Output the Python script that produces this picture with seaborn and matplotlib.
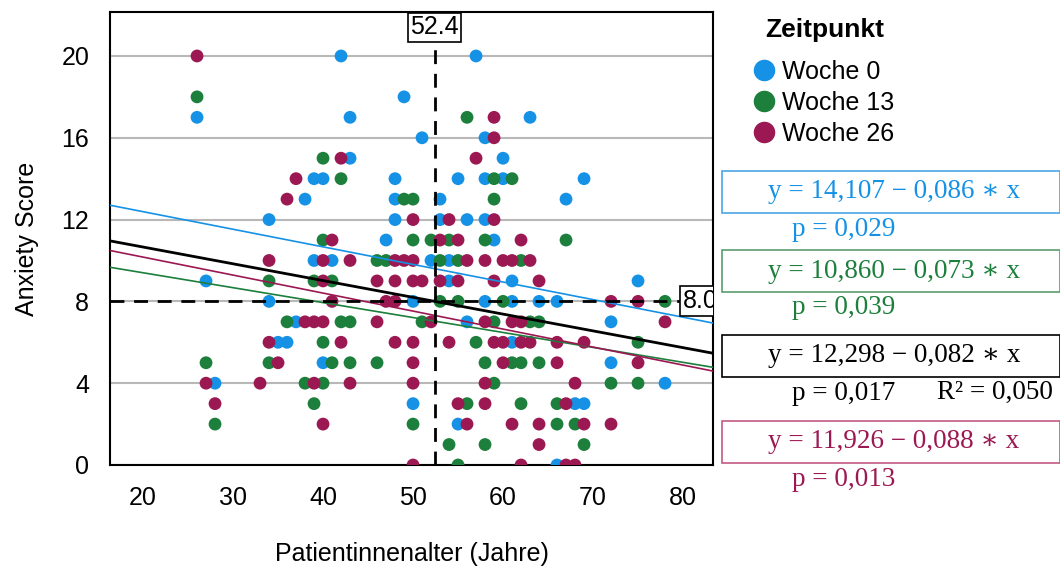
import matplotlib
matplotlib.use("Agg")
import matplotlib.pyplot as plt
import matplotlib.transforms as mtrans
from matplotlib.lines import Line2D
from matplotlib.patches import Rectangle
import numpy as np
import pandas as pd
import seaborn as sns

# ---------------- data ----------------
groups = ["Woche 0", "Woche 13", "Woche 26"]
legend_title = "Zeitpunkt"

w0_age = [42, 57, 49, 26, 43, 63, 51, 58, 43, 60, 39, 40, 48, 55, 58, 60, 69,
          38, 48, 53, 67, 34, 48, 53, 56, 58, 47, 59, 39, 41, 52, 54,
          27, 54, 61, 75, 34, 50, 58, 61, 64, 66, 37, 56, 72, 35, 36, 61,
          40, 72, 28, 78, 50, 68, 69, 55, 66]
w0_score = [20, 20, 18, 17, 17, 17, 16, 16, 15, 15, 14, 14, 14, 14, 14, 14, 14,
            13, 13, 13, 13, 12, 12, 12, 12, 12, 11, 11, 10, 10, 10, 10,
            9, 9, 9, 9, 8, 8, 8, 8, 8, 8, 7, 7, 7, 6, 6, 6,
            5, 5, 4, 4, 3, 3, 3, 2, 0]

w13_age = [26, 56, 40, 42, 59, 61, 49, 50, 59, 40, 50, 52, 54, 58, 67,
           46, 47, 53, 55, 62, 34, 39, 41, 53, 55, 60, 78,
           36, 42, 43, 51, 59, 63, 64, 40, 57, 75,
           27, 34, 41, 43, 46, 58, 61, 62, 64, 38, 40, 59, 72, 75,
           39, 56, 62, 66, 28, 50, 66, 68, 54, 58, 69, 55]
w13_score = [18, 17, 15, 14, 14, 14, 13, 13, 13, 11, 11, 11, 11, 11, 11,
             10, 10, 10, 10, 10, 9, 9, 9, 8, 8, 8, 8,
             7, 7, 7, 7, 7, 7, 7, 6, 6, 6,
             5, 5, 5, 5, 5, 5, 5, 5, 5, 4, 4, 4, 4, 4,
             3, 3, 3, 3, 2, 2, 2, 2, 1, 1, 1, 0]

w26_age = [26, 59, 59, 42, 57, 37, 36, 50, 54, 59, 41, 53, 55, 62,
           34, 40, 43, 48, 49, 50, 56, 58, 60, 61, 63,
           40, 46, 48, 50, 51, 53, 55, 59, 64,
           41, 47, 48, 72, 75,
           38, 39, 40, 46, 52, 58, 61, 62, 78,
           34, 42, 48, 50, 54, 59, 60, 62, 63, 66, 69,
           35, 50, 60, 66, 75,
           27, 33, 39, 43, 50, 58, 68,
           28, 55, 58, 67,
           40, 56, 61, 64, 69, 72,
           64,
           50, 62, 67, 68]
w26_score = [20, 17, 16, 15, 15, 14, 13, 12, 12, 12, 11, 11, 11, 11,
             10, 10, 10, 10, 10, 10, 10, 10, 10, 10, 10,
             9, 9, 9, 9, 9, 9, 9, 9, 9,
             8, 8, 8, 8, 8,
             7, 7, 7, 7, 7, 7, 7, 7, 7,
             6, 6, 6, 6, 6, 6, 6, 6, 6, 6, 6,
             5, 5, 5, 5, 5,
             4, 4, 4, 4, 4, 4, 4,
             3, 3, 3, 3,
             2, 2, 2, 2, 2, 2,
             1,
             0, 0, 0, 0]

# regression lines (Woche 0, Woche 13, Woche 26, Gesamt)
line_names = ["Woche 0", "Woche 13", "Woche 26", "Gesamt"]
intercepts = [14.107, 10.860, 11.926, 12.298]
slopes = [-0.086, -0.073, -0.088, -0.082]
eq_intercept_txt = ["14,107", "10,860", "11,926", "12,298"]
eq_slope_txt = ["0,086", "0,073", "0,088", "0,082"]
p_txt = ["0,029", "0,039", "0,013", "0,017"]
r2_txt = "0,050"

mean_age = 52.4
mean_score = 8.0

x_ticks = [20, 30, 40, 50, 60, 70, 80]
y_ticks = [0, 4, 8, 12, 16, 20]

# ---------------- styling ----------------
sns.set_style("white")
plt.rcParams["font.family"] = ["Liberation Sans", "DejaVu Sans"]
plt.rcParams["text.color"] = "black"
plt.rcParams["axes.labelcolor"] = "black"
plt.rcParams["xtick.labelcolor"] = "black"
plt.rcParams["ytick.labelcolor"] = "black"

col_blue = "#1592e6"
col_green = "#1c7f3b"
col_mag = "#9c1852"
palette = {"Woche 0": col_blue, "Woche 13": col_green, "Woche 26": col_mag}
line_cols = [col_blue, col_green, col_mag, "black"]

df = pd.DataFrame({
    "Alter": w0_age + w13_age + w26_age,
    "Score": w0_score + w13_score + w26_score,
    "Zeitpunkt": (["Woche 0"] * len(w0_age) + ["Woche 13"] * len(w13_age)
                  + ["Woche 26"] * len(w26_age)),
})

W, H = 1060, 572
fig = plt.figure(figsize=(W / 100, H / 100), dpi=100)
ax = fig.add_axes([110 / W, 1 - 465 / H, 603 / W, 453 / H])

xlim = (16.33, 83.33)
ylim = (0, 22.15)

sns.scatterplot(data=df, x="Alter", y="Score", hue="Zeitpunkt", palette=palette,
                hue_order=groups, s=85, linewidth=0, ax=ax, legend=False,
                zorder=3, clip_on=True)

# regression lines
xs = np.array(xlim)
ldf = pd.DataFrame({
    "x": np.tile(xs, len(line_names)),
    "y": np.concatenate([b + m * xs for b, m in zip(intercepts, slopes)]),
    "g": np.repeat(line_names, 2),
})
for name, c in zip(line_names, line_cols):
    sub = ldf[ldf["g"] == name]
    sns.lineplot(data=sub, x="x", y="y", color=c,
                 lw=2.0 if name == "Gesamt" else 1.2, ax=ax, zorder=4,
                 estimator=None, sort=False)

# mean reference lines
ax.axvline(mean_age, color="black", lw=2, ls=(0, (5, 3.5)), zorder=5)
ax.axhline(mean_score, color="black", lw=2, ls=(0, (5, 3.5)), zorder=5)

ax.set_xlim(*xlim)
ax.set_ylim(*ylim)

# grid / ticks
ax.set_yticks(y_ticks)
ax.set_xticks(x_ticks)
ax.set_yticks(np.arange(2, 23, 4), minor=True)
ax.set_xticks(np.arange(25, 80, 10), minor=True)
ax.yaxis.grid(True, which="major", color="#b8b8b8", lw=1.5, zorder=0)
ax.xaxis.grid(False)
ax.set_axisbelow(True)
ax.tick_params(axis="both", which="major", length=11, width=1.5,
               color="#b8b8b8", labelsize=18, pad=4, direction="out",
               labelcolor="black")
ax.tick_params(axis="both", which="minor", length=5.5, width=1.5,
               color="black", direction="out")
for side in ["left", "right", "top", "bottom"]:
    ax.spines[side].set_visible(True)
    ax.spines[side].set_color("black")
    ax.spines[side].set_linewidth(1.5)

ax.set_xlabel("Patientinnenalter (Jahre)", fontsize=18, labelpad=23,
              color="black")
ax.set_ylabel("Anxiety Score", fontsize=18, labelpad=16, color="black")

# labels for mean lines
trans_xa = mtrans.blended_transform_factory(ax.transData, ax.transAxes)
ax.text(mean_age, 0.993, f"{mean_age:.1f}", transform=trans_xa, ha="center",
        va="top", fontsize=18, zorder=6,
        bbox=dict(boxstyle="square,pad=0.1", fc="white", ec="black", lw=1.2))
trans_ay = mtrans.blended_transform_factory(ax.transAxes, ax.transData)
ax.text(1.008, mean_score, f"{mean_score:.1f}", transform=trans_ay,
        ha="right", va="center", fontsize=18, zorder=6, clip_on=True,
        bbox=dict(boxstyle="square,pad=0.12", fc="white", ec="black", lw=1.2))

# legend
fig.text(765 / W, 1 - 30 / H, legend_title, ha="left", va="center",
         fontsize=19, fontweight="bold", color="black")
handles = [Line2D([0], [0], marker="o", ls="", markersize=15.5,
                  markerfacecolor=palette[g], markeredgewidth=0)
           for g in groups]
leg = fig.legend(handles, groups, loc="upper left",
                 bbox_to_anchor=(753 / W, 1 - 60 / H), frameon=False,
                 fontsize=18, handletextpad=0.25,
                 labelspacing=0.28, handlelength=0.9, borderaxespad=0,
                 borderpad=0)
for t in leg.get_texts():
    t.set_color("black")

# equation boxes (Woche 0, Woche 13, Gesamt, Woche 26)
serif = ["Liberation Serif", "DejaVu Serif"]
box_order = [0, 1, 3, 2]
box_tops = [171, 250, 335, 421]
edge_cols = ["#4aa5e8", "#5a9e6e", "black", "#c25a85"]
for k, (i, top) in enumerate(zip(box_order, box_tops)):
    c = line_cols[i]
    fig.patches.append(Rectangle((722 / W, 1 - (top + 42) / H), 338 / W, 42 / H,
                                 transform=fig.transFigure, fill=False,
                                 ec=edge_cols[k], lw=1.2))
    fig.text(894 / W, 1 - (top + 21) / H,
             f"y = {eq_intercept_txt[i]} \u2212 {eq_slope_txt[i]} \u2217 x",
             ha="center", va="center", fontsize=19.5, color=c, family=serif)
    fig.text(792 / W, 1 - (top + 58) / H, f"p = {p_txt[i]}", ha="left",
             va="center", fontsize=19.5, color=c, family=serif)
    if line_names[i] == "Gesamt":
        fig.text(937 / W, 1 - (top + 57) / H, f"R\u00b2 = {r2_txt}",
                 ha="left", va="center", fontsize=19.5, color=c, family=serif)

fig.savefig("out.png", dpi=100)
